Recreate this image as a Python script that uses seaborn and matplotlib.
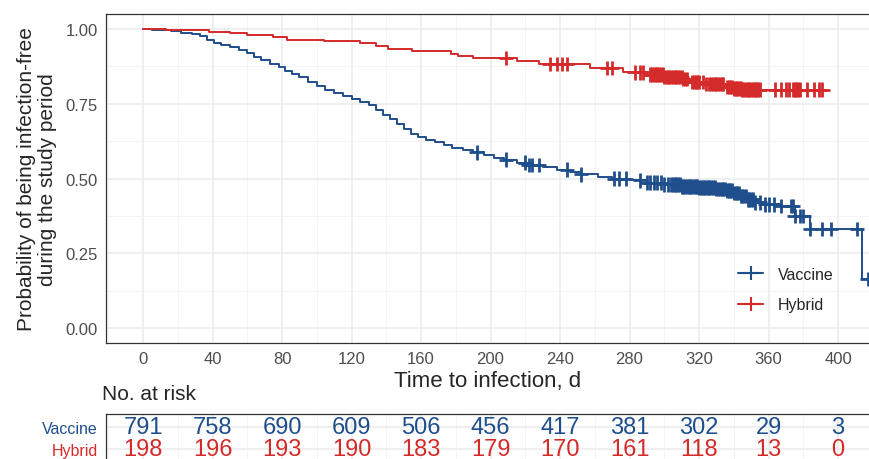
import numpy as np
import pandas as pd
import matplotlib
matplotlib.use("Agg")
import matplotlib.pyplot as plt
from matplotlib.lines import Line2D
from matplotlib.ticker import MultipleLocator
import seaborn as sns

# Grupos y colores
grupos = ["Vaccine", "Hybrid"]
colores = {"Vaccine": "#1F4E8C", "Hybrid": "#D42A2A"}

# Curva Kaplan-Meier: Vaccine
vac_time = [0, 5, 10, 16, 22, 28, 33, 37, 41, 45,
            50, 55, 60, 64, 68, 73, 78, 82, 86, 90,
            95, 100, 105, 110, 115, 120, 125, 130, 134, 138,
            142, 146, 150, 154, 158, 163, 168, 173, 178, 184,
            190, 196, 202, 208, 215, 222, 230, 238, 246, 252,
            262, 270, 280, 290, 300, 310, 320, 330, 336, 340,
            344, 348, 352, 358, 366, 375, 384, 414]
vac_surv = [1.0, 0.997, 0.995, 0.992, 0.987, 0.982, 0.975, 0.962, 0.954, 0.948,
            0.940, 0.930, 0.921, 0.905, 0.896, 0.884, 0.873, 0.858, 0.849, 0.838,
            0.822, 0.808, 0.797, 0.787, 0.777, 0.767, 0.756, 0.745, 0.730, 0.712,
            0.698, 0.683, 0.667, 0.650, 0.638, 0.629, 0.621, 0.612, 0.602, 0.595,
            0.587, 0.579, 0.570, 0.563, 0.553, 0.545, 0.537, 0.530, 0.522, 0.514,
            0.506, 0.500, 0.494, 0.486, 0.480, 0.474, 0.470, 0.465, 0.460, 0.452,
            0.441, 0.430, 0.420, 0.414, 0.408, 0.375, 0.331, 0.164]
vac_cens = [192, 209, 220, 222, 224, 228, 244, 252, 271, 274, 278, 286,
            290, 292, 294, 296, 298, 300, 302, 304, 305, 306, 307, 308, 309,
            310, 311, 312, 313, 314, 315, 316, 317, 318, 319, 320, 321, 322,
            323, 324, 325, 326, 327, 328, 329, 330, 331, 332, 333, 334, 335,
            336, 337, 338, 339, 340, 341, 342, 343, 344, 345, 346, 347, 348,
            349, 350, 351, 352, 355, 358, 360, 363, 367, 373, 374, 375, 378,
            380, 384, 391, 396, 411, 417]

# Curva Kaplan-Meier: Hybrid
hyb_time = [0, 13, 38, 50, 60, 75, 83, 104, 125, 134,
            141, 155, 177, 181, 190, 215, 228, 257, 276, 290,
            300, 311, 315, 324, 336, 340, 345]
hyb_surv = [1.0, 0.996, 0.989, 0.987, 0.980, 0.972, 0.964, 0.959, 0.952, 0.944,
            0.933, 0.925, 0.916, 0.911, 0.903, 0.894, 0.883, 0.869, 0.855, 0.847,
            0.840, 0.833, 0.823, 0.816, 0.806, 0.800, 0.797]
hyb_cens = [209, 234, 238, 241, 244, 267, 270, 283, 286, 288,
            292, 293, 294, 295, 296, 297, 298, 299, 300, 301, 302, 303,
            304, 305, 306, 307, 308, 309, 310, 311, 312, 313,
            316, 317, 318, 319, 320, 322, 324, 326, 327, 328, 329, 330,
            331, 332, 333, 334, 336, 337, 338, 339, 340, 341, 342, 343,
            344, 345, 346, 347, 348, 349, 350, 351, 352, 353, 354, 355,
            364, 367, 370, 372, 374, 375, 376, 377, 378, 382, 386, 389, 391]

# Tabla de numero en riesgo
risk_times = [0, 40, 80, 120, 160, 200, 240, 280, 320, 360, 400]
risk_vac = [791, 758, 690, 609, 506, 456, 417, 381, 302, 29, 3]
risk_hyb = [198, 196, 193, 190, 183, 179, 170, 161, 118, 13, 0]

curvas = {"Vaccine": (vac_time, vac_surv, vac_cens),
          "Hybrid": (hyb_time, hyb_surv, hyb_cens)}

# Armar tablas para seaborn
filas_curva = []
filas_cens = []
for g, (t, s, c) in curvas.items():
    t = np.array(t, dtype=float)
    s = np.array(s, dtype=float)
    tt = np.append(t, max(c))
    ss = np.append(s, s[-1])
    filas_curva.append(pd.DataFrame({"time": tt, "surv": ss, "group": g}))
    idx = np.searchsorted(t, np.array(c, dtype=float), side="right") - 1
    filas_cens.append(pd.DataFrame({"time": c, "surv": s[idx], "group": g}))
df_curva = pd.concat(filas_curva, ignore_index=True)
df_cens = pd.concat(filas_cens, ignore_index=True)

# Estilo
sns.set_theme(style="whitegrid")
plt.rcParams["font.family"] = ["Liberation Sans", "DejaVu Sans"]

W, H = 870, 460
fig = plt.figure(figsize=(W / 100, H / 100), dpi=100)
ax = fig.add_axes([106 / W, 1 - 344 / H, 764 / W, 329 / H])
ax2 = fig.add_axes([106 / W, 1 - 463 / H, 764 / W, 48 / H])

sns.lineplot(data=df_curva, x="time", y="surv", hue="group", hue_order=grupos,
             palette=colores, drawstyle="steps-post", estimator=None,
             linewidth=1.4, legend=False, ax=ax)
sns.scatterplot(data=df_cens, x="time", y="surv", hue="group", hue_order=grupos,
                palette=colores, marker="+", s=110, linewidth=2.0,
                legend=False, ax=ax, zorder=3)

gris_borde = "#333333"
for a in (ax, ax2):
    a.set_xlim(-21.3, 418.4)
    a.xaxis.set_major_locator(MultipleLocator(40))
    a.xaxis.set_minor_locator(MultipleLocator(20))
    a.grid(which="major", color="#EBEBEB", linewidth=1.1)
    a.grid(which="minor", color="#F2F2F2", linewidth=0.6)
    a.set_axisbelow(True)
    for sp in a.spines.values():
        sp.set_visible(True)
        sp.set_color(gris_borde)
        sp.set_linewidth(0.9)
    a.tick_params(which="minor", length=0)

ax.set_ylim(-0.05, 1.05)
ax.yaxis.set_major_locator(MultipleLocator(0.25))
ax.yaxis.set_minor_locator(MultipleLocator(0.125))
ax.yaxis.set_major_formatter(plt.FuncFormatter(lambda v, p: f"{v:.2f}"))
ax.tick_params(which="major", length=4, width=0.9, color=gris_borde,
               labelcolor="#4D4D4D", labelsize=12, pad=2)

ax.set_xlabel("Time to infection, d", fontsize=16)
ax.xaxis.set_label_coords(0.5, -0.082)
ax.set_ylabel("Probability of being infection-free\nduring the study period",
              fontsize=15, linespacing=1.15)
ax.yaxis.set_label_coords(-0.064, 0.5)

handles = [Line2D([0], [0], color=colores[g], marker="+", markersize=10,
                  markeredgewidth=1.5, linewidth=1.5) for g in grupos]
ax.legend(handles, grupos, loc="upper left", bbox_to_anchor=(0.827, 0.231),
          frameon=False, fontsize=11.5, handlelength=1.6, handletextpad=0.9,
          labelspacing=0.95, borderpad=0, borderaxespad=0)

# Tabla de riesgo
fig.text(102 / W, 1 - 395 / H, "No. at risk", fontsize=15, va="center")
ax2.set_ylim(0.41, 2.59)
ax2.set_yticks([2, 1])
ax2.set_yticklabels(grupos)
for lab, g in zip(ax2.get_yticklabels(), grupos):
    lab.set_color(colores[g])
ax2.tick_params(axis="y", length=4, width=0.9, color=gris_borde,
                labelsize=11.5, pad=2)
ax2.tick_params(axis="x", length=0, labelbottom=False)
fila = {"Vaccine": (2, risk_vac), "Hybrid": (1, risk_hyb)}
for g, (yv, nums) in fila.items():
    for t, n in zip(risk_times, nums):
        ax2.text(t, yv, str(n), ha="center", va="center", color=colores[g],
                 fontsize=17, family=["Liberation Sans Narrow", "Liberation Sans"])

fig.savefig("out.png", dpi=100)
plt.close(fig)
